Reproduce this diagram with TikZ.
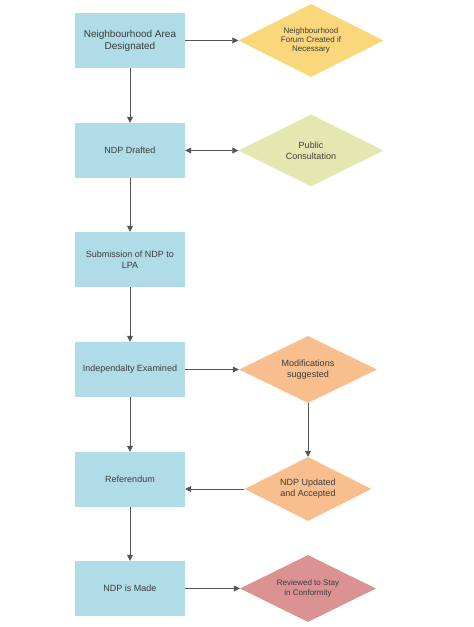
\documentclass[tikz,border=0pt]{standalone}
\usepackage{fontspec}
\setmainfont{Liberation Sans}
\usetikzlibrary{shapes.geometric,arrows.meta}

\definecolor{stageblue}{RGB}{176,220,232}
\definecolor{forumgold}{RGB}{250,215,122}
\definecolor{consultgreen}{RGB}{228,232,176}
\definecolor{modorange}{RGB}{248,190,142}
\definecolor{reviewred}{RGB}{218,146,146}
\definecolor{textgray}{RGB}{60,60,60}
\definecolor{linegray}{RGB}{85,85,85}

\tikzset{
  stage/.style={rectangle, fill=stageblue, minimum width=110pt, minimum height=55pt,
    inner sep=0pt, align=center, text=textgray, font=\fontsize{9}{10.5}\selectfont},
  choice/.style={diamond, aspect=2, inner sep=0pt, align=center, text=textgray,
    font=\fontsize{8.5}{9.5}\selectfont},
  flow/.style={draw=linegray, line width=0.8pt, -{Triangle[length=6pt,width=6pt]}},
  twoway/.style={draw=linegray, line width=0.8pt,
    {Triangle[length=6pt,width=6pt]}-{Triangle[length=6pt,width=6pt]}},
}

\begin{document}
\begin{tikzpicture}[x=1pt, y=-1pt]
    \useasboundingbox (0,0) rectangle (474,627);

    % Main stages
    \node[stage, font=\fontsize{10}{12}\selectfont] (area) at (130,40.5) {Neighbourhood Area\\Designated};
    \node[stage] (drafted) at (130,150.5) {NDP Drafted};
    \node[stage] (submit) at (130,259.5) {Submission of NDP to\\LPA};
    \node[stage] (examined) at (130,369.5) {Independalty Examined};
    \node[stage] (referendum) at (130,479.5) {Referendum};
    \node[stage] (made) at (130,588.5) {NDP is Made};

    % Side steps
    \node[choice, fill=forumgold, minimum width=145pt, minimum height=73pt,
      font=\fontsize{8}{9.3}\selectfont] (forum) at (311,40.5) {Neighbourhood\\Forum Created if\\Necessary};
    \node[choice, fill=consultgreen, minimum width=145pt, minimum height=72pt,
      font=\fontsize{9}{11}\selectfont] (consult) at (311,150.5) {Public\\Consultation};
    \node[choice, fill=modorange, minimum width=138pt, minimum height=67pt,
      font=\fontsize{9}{11}\selectfont] (modif) at (308,369.5) {Modifications\\suggested};
    \node[choice, fill=modorange, minimum width=127pt, minimum height=64pt,
      font=\fontsize{9}{11}\selectfont] (updated) at (308,489) {NDP Updated\\and Accepted};
    \node[choice, fill=reviewred, minimum width=136pt, minimum height=67pt,
      font=\fontsize{8}{9.5}\selectfont] (review) at (308,588.5) {Reviewed to Stay\\in Conformity};

    % Down the main line
    \draw[flow] (area) -- (drafted);
    \draw[flow] (drafted) -- (submit);
    \draw[flow] (submit) -- (examined);
    \draw[flow] (examined) -- (referendum);
    \draw[flow] (referendum) -- (made);

    % Across to the side steps
    \draw[flow] (area) -- (forum);
    \draw[twoway] (drafted) -- (consult);
    \draw[flow] (examined) -- (modif);
    \draw[flow] (modif) -- (updated);
    \draw[flow] (updated.west) -- (updated.west -| referendum.east);
    \draw[flow] (made) -- (review);
\end{tikzpicture}
\end{document}
